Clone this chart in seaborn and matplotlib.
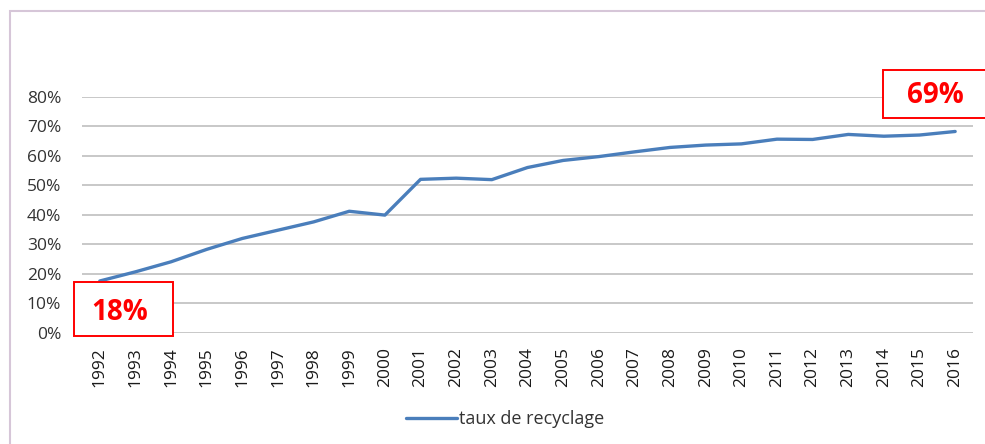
import matplotlib.pyplot as plt
import pandas as pd
import seaborn as sns
from matplotlib.patches import Rectangle

# recycling rate
years = list(range(1992, 2017))
taux = [17.6, 20.7, 24.1, 28.3, 32.0, 34.8, 37.6, 41.2, 39.9, 52.0,
        52.4, 51.9, 56.0, 58.4, 59.7, 61.3, 62.8, 63.6, 64.0, 65.6,
        65.5, 67.2, 66.6, 67.0, 68.2]
y_ticks = [0, 10, 20, 30, 40, 50, 60, 70, 80]
label_debut = "18%"
label_fin = "69%"
serie = "taux de recyclage"


def main() -> None:
    df = pd.DataFrame({"annee": years, serie: taux})

    sns.set_theme(style="white")
    plt.rcParams["font.family"] = ["Open Sans", "DejaVu Sans"]

    fig = plt.figure(figsize=(9.85, 4.44), dpi=100)
    ax = fig.add_axes([0.0832, 0.25, 0.9046, 0.5324])

    sns.lineplot(data=df, x="annee", y=serie, ax=ax, color="#4a7ebb",
                 linewidth=2.4, label=serie, zorder=3)

    ax.set_xlim(1991.5, 2016.5)
    ax.set_ylim(0, 80)
    ax.set_xticks(years)
    ax.set_xticklabels([str(y) for y in years], rotation=90, fontsize=12.5,
                       color="#1a1a1a")
    ax.set_yticks(y_ticks)
    ax.set_yticklabels([f"{v}%" for v in y_ticks], fontsize=12.5, color="#333333")
    ax.tick_params(axis="x", length=0, pad=10)
    ax.tick_params(axis="y", length=0, pad=15)
    ax.grid(axis="y", color="#c4c4c4", linewidth=1.3)
    ax.set_axisbelow(True)
    for s in ax.spines.values():
        s.set_visible(False)
    ax.set(xlabel="", ylabel="")

    ax.legend(loc="center", bbox_to_anchor=(0.513, 0.056),
              bbox_transform=fig.transFigure, frameon=False, fontsize=13,
              handlelength=2.8, handletextpad=0.15, labelcolor="#333333")

    # outer chart frame
    fig.add_artist(Rectangle((0.0102, -0.1), 1.2, 1.075, fill=False,
                             edgecolor="#d6c6d8", linewidth=1.5,
                             transform=fig.transFigure))

    # callout boxes
    for (x0, y0, w, h) in [(0.0751, 0.2432, 0.1005, 0.1217),
                           (0.8964, 0.7342, 0.12, 0.1081)]:
        fig.add_artist(Rectangle((x0, y0), w, h, facecolor="white",
                                 edgecolor="#ff0000", linewidth=1.4,
                                 transform=fig.transFigure, zorder=5))
    fig.text(0.1218, 0.297, label_debut, color="#ff0000", fontsize=20,
             fontweight="bold", ha="center", va="center", zorder=6)
    fig.text(0.9493, 0.786, label_fin, color="#ff0000", fontsize=20,
             fontweight="bold", ha="center", va="center", zorder=6)

    fig.savefig("out.png", dpi=100)


if __name__ == "__main__":
    main()
